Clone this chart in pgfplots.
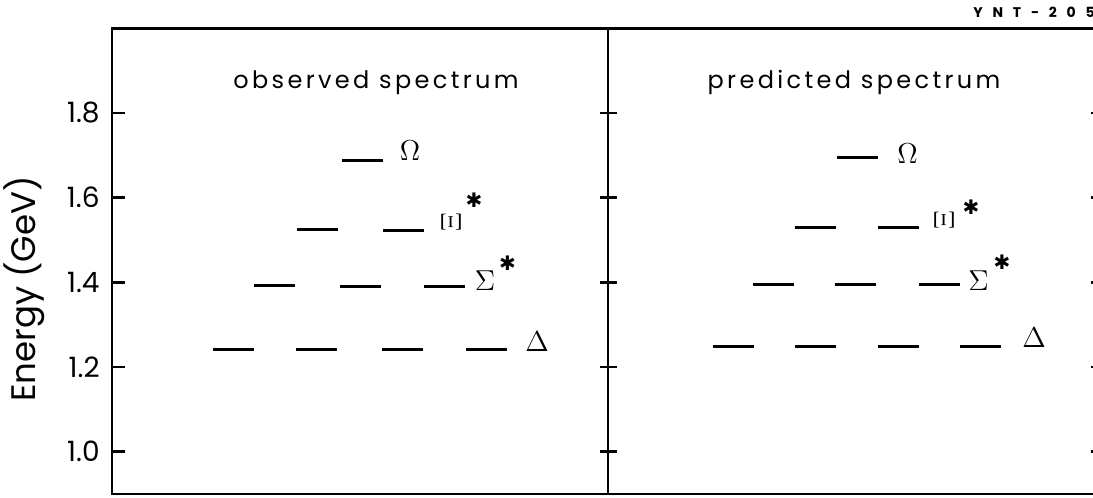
\documentclass[border=0pt]{standalone}
\usepackage{fontspec}
\setmainfont{Poppins}
\newfontfamily\dejavu{DejaVu Sans}
\usepackage{pgfplots}
\usepackage{pgfplotstable}
\pgfplotsset{compat=1.18}

% level positions: x in picture pixels, E in GeV
\pgfplotstableread{
x E
362.5 1.687
317.5 1.524
403.0 1.522
274.5 1.392
360.0 1.391
444.0 1.391
233.5 1.241
316.5 1.241
402.5 1.241
486.0 1.242
}\observed
\pgfplotstableread{
x E
857.0 1.694
815.5 1.529
898.0 1.529
773.5 1.396
855.5 1.396
939.5 1.395
733.5 1.249
815.0 1.249
898.0 1.249
980.5 1.249
}\predicted

\pgfplotsset{
  spectrum/.style={
    scale only axis, height=232.85pt, anchor=south west,
    ymin=0.9, ymax=2.0, xtick=\empty,
    ytick={1.0,1.2,1.4,1.6,1.8},
    axis line style={line width=1.4pt},
    major tick style={line width=1.4pt, black},
    clip=false,
  },
  level/.style={only marks, mark=-, mark size=10.25pt,
    mark options={line width=1.5pt, black}},
}
\tikzset{greek/.style={font=\fontsize{14.4}{16}\selectfont}}
\newcommand{\exc}{{\dejavu\bfseries\fontsize{10}{10}\selectfont ✱}}

\begin{document}
\begin{tikzpicture}
\useasboundingbox (0,0) rectangle (546.5pt,-249pt);
\clip (0,0) rectangle (546.5pt,-249pt);

\begin{axis}[spectrum, at={(56pt,-247pt)}, width=248pt,
  xmin=112, xmax=608,
  ytick pos=left, tick align=inside, major tick length=6.5pt,
  yticklabel style={font=\fontsize{14}{14}\selectfont, inner sep=0pt, xshift=-6pt,
    /pgf/number format/.cd, fixed, fixed zerofill, precision=1, assume math mode=true},
  ylabel={Energy (GeV)},
  ylabel style={font=\fontsize{17}{18}\selectfont, at={(axis description cs:-0.178,0.44)}, anchor=center},
]
  \addplot[level] table[x=x, y=E] {\observed};
  \node[anchor=base, font=\fontsize{12}{12}\selectfont] at (axis cs:376,1.858) {\addfontfeature{LetterSpace=14}observed spectrum};
  \node[greek] at (axis cs:410,1.711) {$\Omega$};
  \node[greek, rotate=90] at (axis cs:451,1.543) {$\Xi$};
  \node at (axis cs:474,1.595) {\exc};
  \node[greek] at (axis cs:485,1.403) {$\Sigma$};
  \node at (axis cs:507.5,1.445) {\exc};
  \node[greek] at (axis cs:537,1.261) {$\Delta$};
\end{axis}

\begin{axis}[spectrum, at={(304pt,-247pt)}, width=245.5pt,
  xmin=608, xmax=1099,
  ytick pos=both, tick align=center, major tick length=8.5pt,
  yticklabels={},
]
  \addplot[level] table[x=x, y=E] {\predicted};
  \node[anchor=base, font=\fontsize{12}{12}\selectfont] at (axis cs:854,1.857) {\addfontfeature{LetterSpace=14}predicted spectrum};
  \node[greek] at (axis cs:907.5,1.705) {$\Omega$};
  \node[greek, rotate=90] at (axis cs:944,1.547) {$\Xi$};
  \node at (axis cs:971,1.578) {\exc};
  \node[greek] at (axis cs:978.5,1.404) {$\Sigma$};
  \node at (axis cs:1002,1.448) {\exc};
  \node[greek] at (axis cs:1034,1.269) {$\Delta$};
\end{axis}

\node[anchor=base west, inner sep=0pt, font=\bfseries\fontsize{7}{7}\selectfont] at (486.5pt,-9pt) {\addfontfeature{LetterSpace=70}YNT-205};
\end{tikzpicture}
\end{document}
